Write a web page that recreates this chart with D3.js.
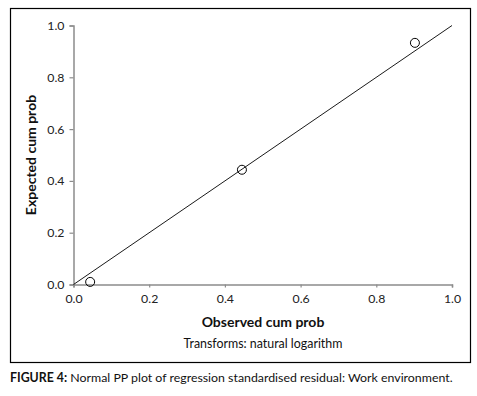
<!DOCTYPE html>
<html>
<head>
<meta charset="utf-8">
<script src="https://cdn.jsdelivr.net/npm/d3@7"></script>
<style>
  body { margin: 0; background: #fff; }
  text { font-family: Lato, "Open Sans", sans-serif; }
</style>
</head>
<body>
<svg id="chart" width="477" height="396"></svg>
<script>
var svg = d3.select('#chart');

// observed vs expected cumulative probabilities
var observed = [0.044, 0.445, 0.902];
var expected = [0.010, 0.443, 0.933];
var tick_vals = [0, 0.2, 0.4, 0.6, 0.8, 1.0];

var x_left = 73.5, x_right = 452, y_top = 25.5, y_bottom = 284.5;
var x = d3.scaleLinear().domain([0, 1]).range([x_left, x_right]);
var y = d3.scaleLinear().domain([0, 1]).range([y_bottom, y_top]);

// frame
svg.append('rect').attr('x', 10.5).attr('y', 8.5).attr('width', 460).attr('height', 354)
	.attr('fill', 'none').attr('stroke', '#000').attr('stroke-width', 1.2);

var xAxis = svg.append('g').attr('transform', 'translate(0,' + y_bottom + ')')
	.call(d3.axisBottom(x).tickValues(tick_vals).tickFormat(d3.format('.1f')).tickSizeOuter(0).tickSize(3).tickPadding(7));
var yAxis = svg.append('g').attr('transform', 'translate(' + x_left + ',0)')
	.call(d3.axisLeft(y).tickValues(tick_vals).tickFormat(d3.format('.1f')).tickSizeOuter(0).tickSize(4).tickPadding(5));

[xAxis, yAxis].forEach(function(a) {
	a.select('.domain').attr('stroke', '#8c8c8c').attr('stroke-width', 1.5);
	a.selectAll('.tick line').attr('stroke', '#8c8c8c').attr('stroke-width', 1.2);
	a.selectAll('.tick text').attr('fill', '#222').style('font-size', '12.3px').style('font-family', 'Lato, sans-serif');
});

// reference diagonal
svg.append('line').attr('x1', x(0)).attr('y1', y(0)).attr('x2', x(1)).attr('y2', y(1))
	.attr('stroke', '#000').attr('stroke-width', 0.9);

svg.selectAll('circle.pt').data(observed).enter().append('circle').attr('class', 'pt')
	.attr('cx', d => x(d)).attr('cy', (d, i) => y(expected[i])).attr('r', 4.5)
	.attr('fill', 'none').attr('stroke', '#000').attr('stroke-width', 1);

svg.append('text').attr('x', 263).attr('y', 327).attr('text-anchor', 'middle')
	.style('font-size', '14px').style('font-weight', 'bold').attr('fill', '#111').text('Observed cum prob');
svg.append('text').attr('x', 263).attr('y', 348).attr('text-anchor', 'middle')
	.style('font-size', '12.4px').attr('fill', '#111').text('Transforms: natural logarithm');
svg.append('text').attr('transform', 'translate(36,155) rotate(-90)').attr('text-anchor', 'middle')
	.style('font-size', '14px').style('font-weight', 'bold').attr('fill', '#111').text('Expected cum prob');

var cap = svg.append('text').attr('x', 10).attr('y', 382).style('font-size', '12.35px').attr('fill', '#111');
cap.append('tspan').style('font-weight', 'bold').text('FIGURE 4:');
cap.append('tspan').text(' Normal PP plot of regression standardised residual: Work environment.');
</script>
</body>
</html>
